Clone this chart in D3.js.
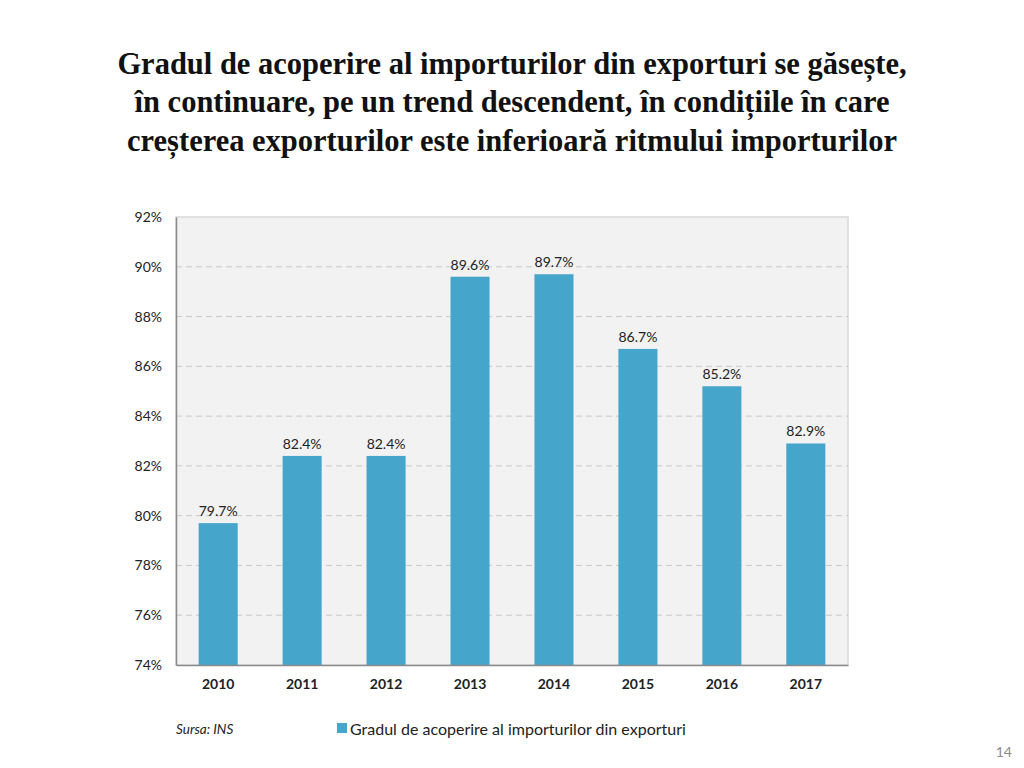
<!DOCTYPE html>
<html><head><meta charset="utf-8">
<script src="https://cdn.jsdelivr.net/npm/d3@7"></script>
<style>body{margin:0;background:#fff}svg{display:block}</style>
</head><body>
<svg id="c" width="1024" height="768"></svg>
<script>
const categories = ["2010","2011","2012","2013","2014","2015","2016","2017"];
const values = [79.7, 82.4, 82.4, 89.6, 89.7, 86.7, 85.2, 82.9];
const yTicks = [74, 76, 78, 80, 82, 84, 86, 88, 90, 92];
const titleLines = [
  "Gradul de acoperire al importurilor din exporturi se găsește,",
  "în continuare, pe un trend descendent, în condițiile în care",
  "creșterea exporturilor este inferioară ritmului importurilor"
];
const seriesName = "Gradul de acoperire al importurilor din exporturi";
const source = "Sursa: INS";
const pageNo = "14";

const svg = d3.select("#c");
const L = 176, R = 848, T = 217, B = 665;
const sans = "Lato, 'Open Sans', sans-serif";

svg.selectAll("text.title").data(titleLines).enter().append("text")
  .attr("x", 512).attr("y", (d,i) => 73.5 + i*38.8)
  .attr("text-anchor", "middle")
  .style("font-family", "'Liberation Serif', serif").style("font-weight", "bold")
  .style("font-size", "30.5px").attr("fill", "#111").text(d => d);

const x = d3.scaleBand().domain(categories).range([L, R]).paddingInner(0.535).paddingOuter(0.27);
const y = d3.scaleLinear().domain([74, 92]).range([B, T]);

svg.append("rect").attr("x", L).attr("y", T).attr("width", R-L).attr("height", B-T)
  .attr("fill", "#f2f2f2").attr("stroke", "#d9d9d9").attr("stroke-width", 1.5);

svg.append("g").selectAll("line").data(yTicks.filter(t => t > 74 && t < 92)).enter().append("line")
  .attr("x1", L).attr("x2", R).attr("y1", d => y(d)).attr("y2", d => y(d))
  .attr("stroke", "#c8c8c8").attr("stroke-dasharray", "6,4");

svg.append("g").selectAll("rect").data(values).enter().append("rect")
  .attr("x", (d,i) => x(categories[i])).attr("width", x.bandwidth())
  .attr("y", d => y(d)).attr("height", d => B - y(d)).attr("fill", "#45a5cb");

svg.append("g").selectAll("text").data(values).enter().append("text")
  .attr("x", (d,i) => x(categories[i]) + x.bandwidth()/2).attr("y", d => y(d) - 7)
  .attr("text-anchor", "middle").style("font-family", sans).style("font-size", "14px")
  .attr("fill", "#222").text(d => d.toFixed(1) + "%");

const yAxis = svg.append("g").attr("transform", `translate(${L},0)`)
  .call(d3.axisLeft(y).tickValues(yTicks).tickSize(0).tickPadding(14).tickFormat(d => d + "%"));
yAxis.select(".domain").attr("stroke", "#8a8a8a").attr("stroke-width", 1.5);
yAxis.selectAll("text").style("font-family", sans).style("font-size", "14px").attr("fill", "#222");

const xAxis = svg.append("g").attr("transform", `translate(0,${B})`)
  .call(d3.axisBottom(x).tickSize(0).tickPadding(14));
xAxis.select(".domain").attr("stroke", "#8a8a8a").attr("stroke-width", 1.5);
xAxis.selectAll("text").style("font-family", sans).style("font-size", "14px")
  .style("font-weight", "bold").attr("fill", "#222");

svg.append("text").attr("x", 176).attr("y", 734).style("font-family", sans)
  .style("font-size", "13.5px").style("font-style", "italic").attr("fill", "#222").text(source);

svg.append("rect").attr("x", 337).attr("y", 723).attr("width", 10).attr("height", 10).attr("fill", "#45a5cb");
svg.append("text").attr("x", 350).attr("y", 735).style("font-family", sans)
  .style("font-size", "16px").attr("fill", "#222").text(seriesName);

svg.append("text").attr("x", 1012).attr("y", 757).attr("text-anchor", "end").style("font-family", sans)
  .style("font-size", "14px").attr("fill", "#8c8c8c").text(pageNo);
</script>
</body></html>
